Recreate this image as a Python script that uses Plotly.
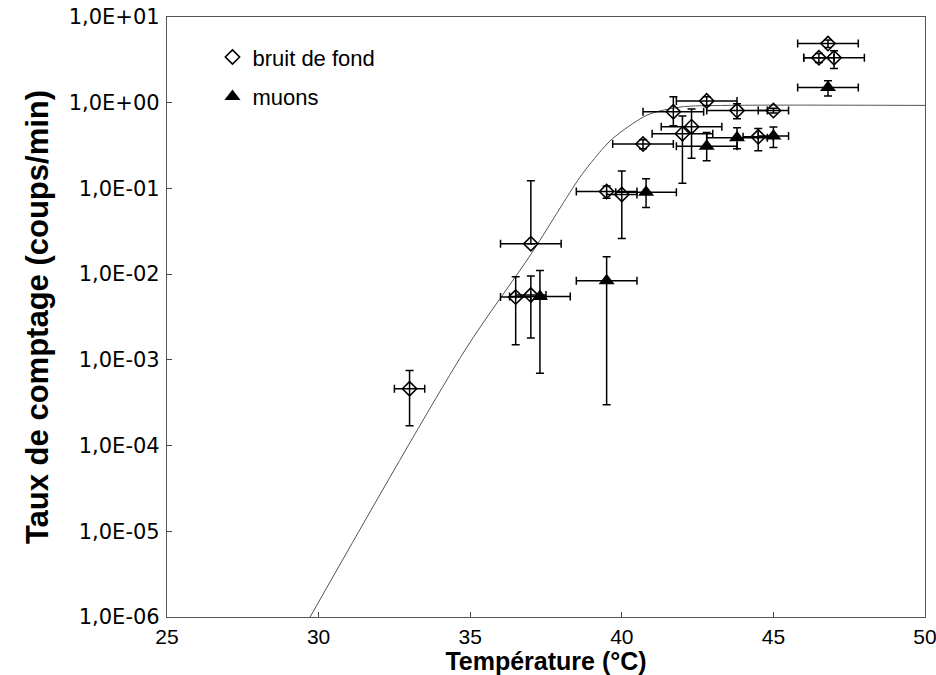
import plotly.graph_objects as go

# ---- data ----
# bruit de fond (open diamonds)
bg_temp = [33.0, 36.5, 37.0, 37.0, 39.5, 40.0, 40.7, 41.7, 42.0, 42.3, 42.8, 43.8, 44.5, 45.0, 46.5, 46.8, 47.0]
bg_rate = [4.6e-4, 0.0054, 0.0057, 0.0226, 0.092, 0.085, 0.33, 0.785, 0.435, 0.525, 1.05, 0.81, 0.40, 0.81, 3.35, 4.9, 3.35]
bg_err_plus = [2.9e-4, 0.0039, 0.0038, 0.10, 0.015, 0.075, 0.04, 0.385, 0.265, 0.32, 0.12, 0.16, 0.10, 0.05, 0.4, 0.5, 0.7]
bg_err_minus = [2.9e-4, 0.0039, 0.0039, 0.0, 0.015, 0.059, 0.04, 0.245, 0.32, 0.30, 0.12, 0.16, 0.125, 0.05, 0.4, 0.5, 0.85]
bg_temp_err = [0.5, 0.5, 0.5, 1.0, 1.0, 0.5, 1.0, 1.0, 1.0, 1.0, 1.0, 1.0, 0.5, 0.5, 0.5, 1.0, 1.0]

# muons (filled triangles)
mu_temp = [37.3, 39.5, 40.8, 42.8, 43.8, 45.0, 46.8]
mu_rate = [0.0055, 0.0084, 0.09, 0.31, 0.39, 0.41, 1.5]
mu_err_plus = [0.0055, 0.0076, 0.04, 0.14, 0.12, 0.11, 0.3]
mu_err_minus = [0.0048, 0.0081, 0.03, 0.10, 0.10, 0.11, 0.3]
mu_temp_err = [1.0, 1.0, 1.0, 1.0, 1.0, 0.5, 1.0]

# model curve
curve_temp = [29.72, 34.83, 37.0, 38.62, 39.33, 39.71, 40.83, 41.92, 43.47, 50.0]
curve_rate = [1.0e-6, 1.3e-3, 0.017, 0.135, 0.28, 0.385, 0.716, 0.89, 0.93, 0.93]

y_tickvals = [1e1, 1e0, 1e-1, 1e-2, 1e-3, 1e-4, 1e-5, 1e-6]
y_ticktext = ["1,0E+01", "1,0E+00", "1,0E-01", "1,0E-02", "1,0E-03", "1,0E-04", "1,0E-05", "1,0E-06"]
x_tickvals = [25, 30, 35, 40, 45, 50]

FONT = "Liberation Sans, Arial, sans-serif"
WIDE = "DejaVu Sans"

fig = go.Figure()

fig.add_trace(go.Scatter(
    x=curve_temp, y=curve_rate, mode="lines",
    line=dict(color="#555555", width=1, shape="spline", smoothing=0.8),
    showlegend=False, hoverinfo="skip",
))

fig.add_trace(go.Scatter(
    x=bg_temp, y=bg_rate, mode="markers", name="bruit de fond",
    legendgroup="a",
    marker=dict(symbol="diamond-open", size=11, color="black", line=dict(width=1.6, color="black")),
    error_y=dict(type="data", symmetric=False, array=bg_err_plus, arrayminus=bg_err_minus,
                 color="black", thickness=1.5, width=4),
    error_x=dict(type="data", array=bg_temp_err, color="black", thickness=1.5, width=4),
))

fig.add_trace(go.Scatter(
    x=mu_temp, y=mu_rate, mode="markers", name="muons",
    legendgroup="b",
    marker=dict(symbol="triangle-up", size=14, color="black"),
    error_y=dict(type="data", symmetric=False, array=mu_err_plus, arrayminus=mu_err_minus,
                 color="black", thickness=1.5, width=4),
    error_x=dict(type="data", array=mu_temp_err, color="black", thickness=1.5, width=4),
))

fig.update_layout(
    width=936, height=675,
    margin=dict(l=167, r=11, t=17, b=58, autoexpand=False),
    paper_bgcolor="white", plot_bgcolor="white",
    font=dict(family=FONT, size=22, color="black"),
    legend=dict(x=0.06, y=0.968, xanchor="left", yanchor="top",
                bgcolor="rgba(0,0,0,0)", font=dict(size=22, family=FONT),
                tracegroupgap=8, itemsizing="trace"),
    xaxis=dict(range=[25, 50], tickvals=x_tickvals, ticks="inside", ticklen=5,
               tickcolor="#444", showline=True, linecolor="#555", linewidth=1.2, mirror=True,
               showgrid=False, zeroline=False, automargin=False,
               ticklabeloverflow="allow", ticklabelstandoff=1,
               title=dict(text="<b>Température (°C)</b>", font=dict(size=25, family=FONT), standoff=10),
               tickfont=dict(size=21)),
    yaxis=dict(type="log", range=[-6, 1], tickvals=y_tickvals, ticktext=y_ticktext,
               ticks="inside", ticklen=5, tickcolor="#444",
               showline=True, linecolor="#555", linewidth=1.2, mirror=True,
               showgrid=False, zeroline=False, automargin=False,
               ticklabeloverflow="allow", ticklabelstandoff=2,
               title=dict(text="<b>Taux de comptage (coups/min)</b>", font=dict(size=31, family=FONT), standoff=10),
               tickfont=dict(size=21, family=WIDE)),
)

fig.write_html("out.html")
